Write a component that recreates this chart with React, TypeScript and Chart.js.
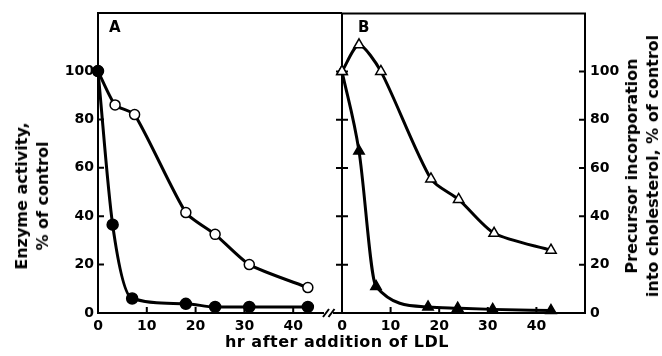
import React, { useEffect, useRef } from 'react';
import { Chart, registerables } from 'chart.js';
Chart.register(...registerables);

// ---- data ----
const hoursAOpen = [0, 3.5, 7.5, 18, 24, 31, 43];
const enzymeOpen = [100, 86, 82, 41.5, 32.5, 20, 10.5];
const hoursAFilled = [0, 3, 7, 18, 24, 31, 43];
const enzymeFilled = [100, 36.5, 6, 3.8, 2.5, 2.5, 2.5];
const hoursBOpen = [0, 3.5, 8, 18.3, 24, 31.3, 43];
const precursorOpen = [100, 111, 100, 55.5, 47, 33, 26];
const hoursBFilled = [0, 3.5, 7, 17.7, 23.8, 31, 43];
const precursorFilled = [100, 67, 11, 2.5, 2, 1.5, 1];
const xTicks = [0, 10, 20, 30, 40];
const yTicks = [0, 20, 40, 60, 80, 100];
const panelLabels = ['A', 'B'];
const xTitle = 'hr after addition of LDL';
const leftTitle = ['Enzyme activity,', '% of control'];
const rightTitle = ['Precursor incorporation', 'into cholesterol, % of control'];

const FONT = 'DejaVu Sans';
const pts = (xs: number[], ys: number[]) => xs.map((x, i) => ({ x, y: ys[i] }));

const tickFont = { family: FONT, weight: 'bold' as const, size: 14 };

function makeFramePlugin(panel: 'A' | 'B') {
  return {
    id: 'frame' + panel,
    beforeDatasetsDraw(chart: any) {
      const { ctx, chartArea } = chart;
      const { left, right, top, bottom } = chartArea;
      const y = chart.scales.y;
      const x = chart.scales.x;
      ctx.save();
      ctx.strokeStyle = '#000';
      ctx.lineWidth = 2;
      ctx.lineCap = 'butt';
      ctx.beginPath();
      if (panel === 'A') {
        ctx.moveTo(left, bottom + 1);
        ctx.lineTo(left, top);
        ctx.lineTo(right, top);
        ctx.moveTo(left - 1, bottom);
        ctx.lineTo(right - 18, bottom);
        // axis break marks
        [326, 331.5].forEach((bx) => {
          ctx.moveTo(bx - 3, bottom + 4);
          ctx.lineTo(bx + 3, bottom - 4);
        });
        yTicks.forEach((v) => {
          const py = y.getPixelForValue(v);
          ctx.moveTo(left, py);
          ctx.lineTo(left + 6, py);
        });
      } else {
        ctx.moveTo(left, bottom + 1);
        ctx.lineTo(left, top);
        ctx.lineTo(right, top);
        ctx.lineTo(right, bottom + 1);
        ctx.moveTo(left - 9, bottom);
        ctx.lineTo(right, bottom);
        yTicks.forEach((v) => {
          const py = y.getPixelForValue(v);
          ctx.moveTo(left - 6, py);
          ctx.lineTo(left + 6, py);
          ctx.moveTo(right - 6, py);
          ctx.lineTo(right, py);
        });
      }
      xTicks.forEach((v) => {
        if (v === 0) return;
        const px = x.getPixelForValue(v);
        ctx.moveTo(px, bottom);
        ctx.lineTo(px, bottom - 6);
      });
      ctx.stroke();
      ctx.fillStyle = '#000';
      ctx.font = `bold 15px "${FONT}"`;
      ctx.textBaseline = 'middle';
      ctx.textAlign = 'left';
      ctx.fillText(panel === 'A' ? panelLabels[0] : panelLabels[1], left + (panel === 'A' ? 11 : 16), top + 15);
      ctx.restore();
    },
  };
}

function baseOptions(panel: 'A' | 'B'): any {
  return {
    animation: false,
    responsive: false,
    maintainAspectRatio: false,
    events: [],
    layout: {
      padding: panel === 'A' ? { left: 0, right: 320, top: 13, bottom: 0 } : { left: 342, right: 0, top: 13, bottom: 0 },
    },
    plugins: { legend: { display: false }, tooltip: { enabled: false }, title: { display: false } },
    scales: {
      x: {
        type: 'linear',
        min: 0,
        max: 50,
        afterBuildTicks: (s: any) => {
          s.ticks = xTicks.map((v) => ({ value: v }));
        },
        afterFit: (s: any) => {
          s.height = 43;
        },
        grid: { display: false, drawTicks: false },
        border: { display: false },
        ticks: { color: '#000', font: tickFont, padding: 5, maxRotation: 0, autoSkip: false },
      },
      y: {
        type: 'linear',
        position: panel === 'A' ? 'left' : 'right',
        min: 0,
        max: 124,
        afterBuildTicks: (s: any) => {
          s.ticks = yTicks.map((v) => ({ value: v }));
        },
        afterFit: (s: any) => {
          s.width = panel === 'A' ? 98 : 77;
        },
        grid: { display: false, drawTicks: false },
        border: { display: false },
        ticks: { color: '#000', font: tickFont, padding: panel === 'A' ? 4 : 5, display: true },
      },
    },
  };
}

function lineSet(data: any[], style: string, filled: boolean, radius: number, curve: 'monotone' | number) {
  return {
    data,
    borderColor: '#000',
    borderWidth: 3,
    cubicInterpolationMode: curve === 'monotone' ? 'monotone' : 'default',
    tension: curve === 'monotone' ? 0.4 : curve,
    pointStyle: style,
    pointRadius: radius,
    pointBorderWidth: 1.5,
    pointBorderColor: '#000',
    pointBackgroundColor: filled ? '#000' : '#fff',
    clip: false,
    fill: false,
  };
}

export default function App() {
  const refA = useRef<HTMLCanvasElement>(null);
  const refB = useRef<HTMLCanvasElement>(null);

  useEffect(() => {
    const chartA = new Chart(refA.current!, {
      type: 'line',
      data: {
        datasets: [
          lineSet(pts(hoursAFilled, enzymeFilled), 'circle', true, 5.5, 'monotone') as any,
          lineSet(pts(hoursAOpen, enzymeOpen), 'circle', false, 5, 0.2) as any,
        ],
      },
      options: baseOptions('A'),
      plugins: [makeFramePlugin('A')],
    });
    const chartB = new Chart(refB.current!, {
      type: 'line',
      data: {
        datasets: [
          lineSet(pts(hoursBOpen, precursorOpen), 'triangle', false, 6, 0.25) as any,
          lineSet(pts(hoursBFilled, precursorFilled), 'triangle', true, 6, 'monotone') as any,
        ],
      },
      options: baseOptions('B'),
      plugins: [makeFramePlugin('B')],
    });
    return () => {
      chartA.destroy();
      chartB.destroy();
    };
  }, []);

  const titleStyle: React.CSSProperties = {
    position: 'absolute',
    fontFamily: FONT,
    fontWeight: 'bold',
    fontSize: 16,
    color: '#000',
    whiteSpace: 'nowrap',
    textAlign: 'center',
    lineHeight: '21px',
  };

  return (
    <div style={{ position: 'fixed', left: 0, top: 0, width: 662, height: 356, background: '#fff', overflow: 'hidden' }}>
      <canvas ref={refA} width={662} height={356} style={{ position: 'absolute', left: 0, top: 0, width: 662, height: 356 }} />
      <canvas ref={refB} width={662} height={356} style={{ position: 'absolute', left: 0, top: 0, width: 662, height: 356 }} />
      <div style={{ ...titleStyle, left: 32, top: 196, transform: 'translate(-50%, -50%) rotate(-90deg)' }}>
        {leftTitle[0]}
        <br />
        {leftTitle[1]}
      </div>
      <div style={{ ...titleStyle, left: 642, top: 166, transform: 'translate(-50%, -50%) rotate(-90deg)' }}>
        {rightTitle[0]}
        <br />
        {rightTitle[1]}
      </div>
      <div style={{ ...titleStyle, left: 337, top: 341, transform: 'translate(-50%, -50%)', letterSpacing: '0.5px' }}>
        {xTitle}
      </div>
    </div>
  );
}
